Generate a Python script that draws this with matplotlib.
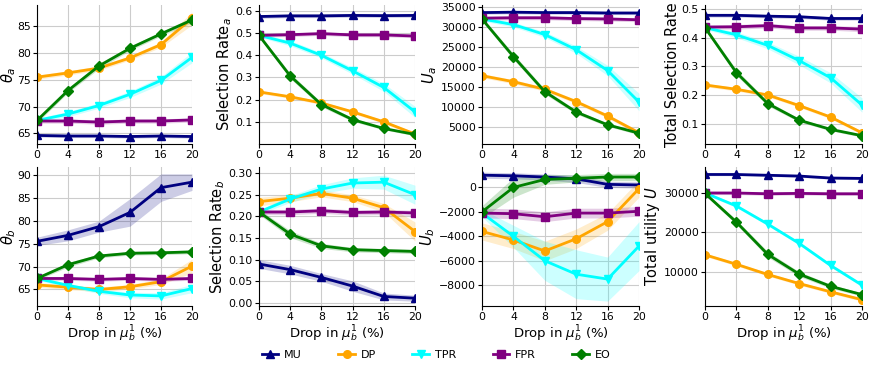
import matplotlib
matplotlib.use("Agg")
import matplotlib.pyplot as plt
import numpy as np

x = [0, 4, 8, 12, 16, 20]
methods = ["MU", "DP", "TPR", "FPR", "EO"]
colors = {"MU": "navy", "DP": "orange", "TPR": "cyan", "FPR": "purple", "EO": "green"}
markers = {"MU": "^", "DP": "o", "TPR": "v", "FPR": "s", "EO": "D"}

# panel means
theta_a = {
    "MU": [64.6, 64.5, 64.5, 64.4, 64.5, 64.4],
    "DP": [75.5, 76.3, 77.2, 79.1, 81.6, 86.5],
    "TPR": [67.4, 68.6, 70.2, 72.3, 74.9, 79.2],
    "FPR": [67.3, 67.3, 67.1, 67.3, 67.3, 67.5],
    "EO": [67.4, 73.0, 77.6, 80.9, 83.6, 86.2],
}
sel_a = {
    "MU": [0.575, 0.578, 0.578, 0.580, 0.579, 0.580],
    "DP": [0.235, 0.213, 0.185, 0.145, 0.100, 0.045],
    "TPR": [0.490, 0.455, 0.400, 0.330, 0.255, 0.145],
    "FPR": [0.490, 0.493, 0.498, 0.492, 0.492, 0.487],
    "EO": [0.490, 0.307, 0.178, 0.110, 0.070, 0.043],
}
u_a = {
    "MU": [33600, 33700, 33600, 33600, 33500, 33500],
    "DP": [17800, 16300, 14400, 11300, 7700, 3500],
    "TPR": [32000, 30600, 28100, 24300, 19100, 11200],
    "FPR": [32200, 32300, 32300, 32100, 32000, 31800],
    "EO": [32000, 22600, 13800, 8700, 5500, 3400],
}
sel_total = {
    "MU": [0.478, 0.478, 0.475, 0.473, 0.467, 0.467],
    "DP": [0.235, 0.220, 0.200, 0.163, 0.123, 0.068],
    "TPR": [0.435, 0.410, 0.373, 0.320, 0.260, 0.165],
    "FPR": [0.437, 0.438, 0.442, 0.434, 0.434, 0.430],
    "EO": [0.435, 0.278, 0.170, 0.112, 0.080, 0.058],
}
theta_b = {
    "MU": [75.5, 76.8, 78.7, 81.8, 87.2, 88.4],
    "DP": [66.0, 65.5, 65.0, 65.6, 66.7, 70.1],
    "TPR": [67.4, 65.9, 64.6, 63.8, 63.6, 65.2],
    "FPR": [67.4, 67.4, 67.2, 67.4, 67.2, 67.4],
    "EO": [67.4, 70.4, 72.3, 72.9, 73.0, 73.2],
}
sel_b = {
    "MU": [0.090, 0.077, 0.059, 0.039, 0.015, 0.011],
    "DP": [0.234, 0.242, 0.253, 0.242, 0.220, 0.165],
    "TPR": [0.210, 0.240, 0.263, 0.277, 0.279, 0.250],
    "FPR": [0.210, 0.210, 0.213, 0.209, 0.210, 0.208],
    "EO": [0.210, 0.159, 0.132, 0.123, 0.121, 0.119],
}
u_b = {
    "MU": [1000, 950, 850, 700, 250, 200],
    "DP": [-3600, -4300, -5200, -4200, -2800, -100],
    "TPR": [-2100, -4000, -6000, -7100, -7500, -4800],
    "FPR": [-2100, -2150, -2400, -2100, -2100, -1950],
    "EO": [-2000, 0, 650, 750, 850, 850],
}
u_total = {
    "MU": [34700, 34700, 34500, 34300, 33800, 33700],
    "DP": [14300, 11900, 9300, 7000, 4900, 2900],
    "TPR": [30000, 26700, 22100, 17200, 11600, 6600],
    "FPR": [30000, 30000, 29800, 29900, 29800, 29800],
    "EO": [29900, 22600, 14400, 9400, 6300, 4200],
}

# band half-widths (std)
theta_a_sd = {
    "MU": [0.3, 0.3, 0.3, 0.3, 0.3, 0.3],
    "DP": [0.4, 0.4, 0.4, 0.4, 0.5, 1.2],
    "TPR": [0.4, 0.5, 0.5, 0.6, 0.7, 1.0],
    "FPR": [0.4, 0.4, 0.4, 0.4, 0.4, 0.4],
    "EO": [0.4, 0.4, 0.5, 0.4, 0.4, 0.5],
}
sel_a_sd = {
    "MU": [0.008, 0.008, 0.008, 0.008, 0.008, 0.008],
    "DP": [0.007, 0.007, 0.007, 0.007, 0.007, 0.007],
    "TPR": [0.008, 0.012, 0.012, 0.015, 0.018, 0.025],
    "FPR": [0.008, 0.008, 0.008, 0.008, 0.008, 0.008],
    "EO": [0.008, 0.012, 0.010, 0.008, 0.006, 0.006],
}
u_a_sd = {
    "MU": [400, 400, 400, 400, 400, 400],
    "DP": [500, 500, 500, 500, 500, 500],
    "TPR": [500, 600, 700, 900, 1300, 2200],
    "FPR": [500, 500, 500, 500, 500, 500],
    "EO": [500, 700, 600, 500, 400, 400],
}
sel_total_sd = {
    "MU": [0.006, 0.006, 0.006, 0.006, 0.006, 0.006],
    "DP": [0.006, 0.006, 0.006, 0.006, 0.006, 0.006],
    "TPR": [0.006, 0.010, 0.012, 0.015, 0.018, 0.025],
    "FPR": [0.007, 0.008, 0.008, 0.008, 0.008, 0.009],
    "EO": [0.007, 0.010, 0.008, 0.006, 0.005, 0.005],
}
theta_b_sd = {
    "MU": [0.9, 1.2, 1.2, 3.0, 3.0, 1.8],
    "DP": [0.5, 0.5, 0.5, 0.5, 0.6, 1.5],
    "TPR": [0.4, 0.4, 0.5, 0.6, 0.7, 0.9],
    "FPR": [0.4, 0.4, 0.4, 0.4, 0.4, 0.4],
    "EO": [0.4, 0.5, 0.4, 0.4, 0.4, 0.4],
}
sel_b_sd = {
    "MU": [0.010, 0.010, 0.009, 0.012, 0.008, 0.007],
    "DP": [0.010, 0.008, 0.008, 0.008, 0.010, 0.022],
    "TPR": [0.005, 0.008, 0.010, 0.012, 0.016, 0.022],
    "FPR": [0.006, 0.006, 0.006, 0.006, 0.006, 0.006],
    "EO": [0.006, 0.008, 0.006, 0.005, 0.005, 0.005],
}
u_b_sd = {
    "MU": [250, 250, 250, 300, 250, 250],
    "DP": [700, 700, 800, 800, 700, 700],
    "TPR": [300, 900, 1600, 2000, 1800, 2000],
    "FPR": [400, 400, 400, 400, 400, 400],
    "EO": [500, 800, 400, 300, 300, 300],
}
u_total_sd = {
    "MU": [300, 300, 300, 300, 300, 300],
    "DP": [400, 400, 400, 400, 400, 400],
    "TPR": [400, 400, 400, 400, 400, 400],
    "FPR": [400, 400, 400, 400, 400, 400],
    "EO": [400, 600, 700, 600, 500, 400],
}

panels = [
    (theta_a, theta_a_sd, r"$\theta_a$", (63.0, 89.0), [65, 70, 75, 80, 85]),
    (sel_a, sel_a_sd, r"Selection Rate$_a$", (0.0, 0.627), [0.1, 0.2, 0.3, 0.4, 0.5, 0.6]),
    (u_a, u_a_sd, r"$U_a$", (700, 35500), [5000, 10000, 15000, 20000, 25000, 30000, 35000]),
    (sel_total, sel_total_sd, "Total Selection Rate", (0.029, 0.514), [0.1, 0.2, 0.3, 0.4, 0.5]),
    (theta_b, theta_b_sd, r"$\theta_b$", (61.4, 91.7), [65, 70, 75, 80, 85, 90]),
    (sel_b, sel_b_sd, r"Selection Rate$_b$", (-0.007, 0.314), [0.0, 0.05, 0.10, 0.15, 0.20, 0.25, 0.30]),
    (u_b, u_b_sd, r"$U_b$", (-9700, 1670), [-8000, -6000, -4000, -2000, 0]),
    (u_total, u_total_sd, r"Total utility $U$", (1300, 36600), [10000, 20000, 30000]),
]

fig = plt.figure(figsize=(8.72, 3.71), dpi=100)
W, H = 872, 371
lefts = [37, 259, 482, 705]
widths = [155, 156, 157, 157]
rows = [(5, 144), (167, 306)]

tick_fmt = {
    1: lambda v: f"{v:.1f}",
    3: lambda v: f"{v:.1f}",
    5: lambda v: f"{v:.2f}",
}

handles = []
for i, (data, sd, ylabel, ylim, yticks) in enumerate(panels):
    r, c = divmod(i, 4)
    top, bot = rows[r]
    ax = fig.add_axes([lefts[c] / W, 1 - bot / H, widths[c] / W, (bot - top) / H])
    for m in methods:
        y = np.array(data[m], dtype=float)
        s = np.array(sd[m], dtype=float)
        ax.fill_between(x, y - s, y + s, color=colors[m], alpha=0.2, linewidth=0)
        ms = 5.5 if markers[m] != "D" else 5
        h, = ax.plot(x, y, color=colors[m], marker=markers[m], markersize=ms,
                     linewidth=2, label=m)
        if i == 0:
            handles.append(h)
    ax.set_xlim(0, 20)
    ax.set_xticks(x)
    ax.set_ylim(*ylim)
    ax.set_yticks(yticks)
    if i in tick_fmt:
        ax.set_yticklabels([tick_fmt[i](v) for v in yticks])
    ax.grid(True, color="#cccccc", linewidth=0.8)
    ax.set_axisbelow(True)
    for sp in ["top", "right"]:
        ax.spines[sp].set_visible(False)
    ax.tick_params(labelsize=7.8, length=3, pad=1.5)
    ax.set_ylabel(ylabel, fontsize=10.5, labelpad=1)
    if c == 0:
        ax.yaxis.set_label_coords(-0.125, 0.5)
    if r == 1:
        ax.set_xlabel(r"Drop in $\mu_b^1$ (%)", fontsize=9.5, labelpad=1)

fig.legend(handles=handles, labels=methods, loc="center", ncol=5,
           bbox_to_anchor=(0.5, 1 - 355 / H), frameon=False, fontsize=8,
           columnspacing=3.3, handlelength=1.5, handletextpad=0.5)

fig.savefig("out.png", dpi=100)
